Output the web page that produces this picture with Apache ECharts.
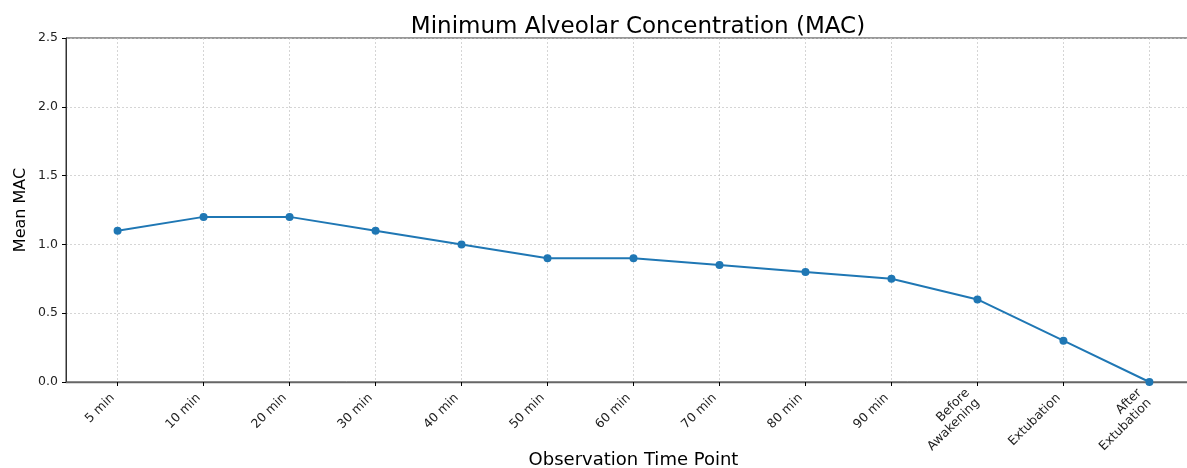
<!DOCTYPE html>
<html>
<head>
<meta charset="utf-8">
<script src="https://cdn.jsdelivr.net/npm/echarts@6/dist/echarts.min.js"></script>
<style>
  html, body { margin: 0; padding: 0; background: #fff; }
  #chart { width: 1187px; height: 468px; }
</style>
</head>
<body>
<div id="chart"></div>
<script>
const timePoints = ['5 min', '10 min', '20 min', '30 min', '40 min', '50 min', '60 min',
  '70 min', '80 min', '90 min', 'Before\nAwakening', 'Extubation', 'After\nExtubation'];
const meanMac = [1.1, 1.2, 1.2, 1.1, 1.0, 0.9, 0.9, 0.85, 0.8, 0.75, 0.6, 0.3, 0.0];
const yTicks = [0, 0.5, 1.0, 1.5, 2.0, 2.5];

const idx = timePoints.map((_, i) => i);
const font = 'DejaVu Sans';
const gridLine = { show: true, lineStyle: { color: '#c4c4c4', type: [2, 2], width: 0.7 } };

const chart = echarts.init(document.getElementById('chart'));
chart.setOption({
  animation: false,
  title: {
    text: 'Minimum Alveolar Concentration (MAC)',
    left: 633, top: 11, textAlign: 'center',
    textStyle: { fontFamily: font, fontSize: 23, fontWeight: 'normal', color: '#000' }
  },
  grid: {
    left: 66, top: 38, width: 1135, height: 344,
    outerBoundsMode: 'none', containLabel: false,
    show: true, borderColor: '#333', borderWidth: 1
  },
  xAxis: {
    type: 'value', min: -0.6, max: 12.6,
    name: 'Observation Time Point', nameLocation: 'middle', nameGap: 69,
    nameMoveOverlap: false,
    nameTextStyle: { fontFamily: font, fontSize: 18, color: '#000' },
    axisLine: { show: true, onZero: false, lineStyle: { color: '#666', width: 1.3 } },
    axisTick: { show: true, customValues: idx, length: 4, lineStyle: { color: '#000' } },
    axisLabel: {
      customValues: idx, rotate: 45, margin: 9, padding: [0, 7, 0, 0],
      fontFamily: font, fontSize: 12.5, color: '#222', lineHeight: 14,
      formatter: v => timePoints[Math.round(v)] || ''
    },
    splitLine: gridLine
  },
  yAxis: {
    type: 'value', min: 0, max: 2.5, interval: 0.5,
    name: 'Mean MAC', nameLocation: 'middle', nameGap: 37,
    nameMoveOverlap: false,
    nameTextStyle: { fontFamily: font, fontSize: 16, color: '#000' },
    axisLine: { show: true, onZero: false, lineStyle: { color: '#333', width: 1 } },
    axisTick: { show: true, length: 4, lineStyle: { color: '#000' } },
    axisLabel: {
      customValues: yTicks, margin: 8, fontFamily: font, fontSize: 12.5, color: '#222',
      formatter: v => v.toFixed(1)
    },
    splitLine: gridLine
  },
  series: [{
    type: 'line',
    data: meanMac.map((v, i) => [i, v]),
    symbol: 'circle', symbolSize: 8,
    lineStyle: { color: '#1f77b4', width: 2 },
    itemStyle: { color: '#1f77b4' }
  }]
});
</script>
</body>
</html>
